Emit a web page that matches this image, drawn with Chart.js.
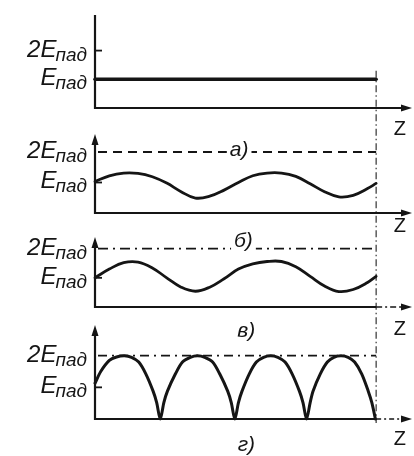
<!DOCTYPE html>
<html>
<head>
<meta charset="utf-8">
<script src="https://cdn.jsdelivr.net/npm/chart.js@4.4.1/dist/chart.umd.min.js"></script>
<style>
  body { margin: 0; background: #fff; }
  #wrap { position: relative; width: 414px; height: 456px; }
  #wrap canvas { position: absolute; left: 0; top: 0; }
</style>
</head>
<body>
<div id="wrap">
  <canvas id="p1" width="414" height="456"></canvas>
  <canvas id="p2" width="414" height="456"></canvas>
  <canvas id="p3" width="414" height="456"></canvas>
  <canvas id="p4" width="414" height="456"></canvas>
</div>
<script>
// z in units of the node spacing of panel г), E in units of E_пад
const Z_END = 3.92;
const Z_MAX = 4.42;

// panel 1: matched load, flat amplitude
const zA = [0, 3.92];
const eA = [1, 1];

// panel а)
const zB = [0, 0.2, 0.4, 0.6, 0.8, 1.0, 1.2, 1.4, 1.6, 1.8, 2.0, 2.2, 2.4, 2.6, 2.8, 3.0, 3.2, 3.4, 3.6, 3.8, 3.92];
const eB = [1.03, 1.22, 1.31, 1.30, 1.19, 0.98, 0.70, 0.49, 0.55, 0.75, 1.00, 1.22, 1.31, 1.31, 1.20, 0.96, 0.70, 0.53, 0.58, 0.80, 0.97];

// panel б)
const zC = [0, 0.2, 0.4, 0.6, 0.8, 1.0, 1.2, 1.4, 1.6, 1.8, 2.0, 2.2, 2.4, 2.6, 2.8, 3.0, 3.2, 3.4, 3.6, 3.8, 3.92];
const eC = [1.00, 1.30, 1.52, 1.54, 1.34, 1.00, 0.68, 0.54, 0.68, 0.97, 1.30, 1.48, 1.56, 1.56, 1.38, 1.05, 0.72, 0.53, 0.60, 0.84, 1.05];

// panel в)/г): standing wave
const zD = [0, 0.08, 0.2, 0.3, 0.41, 0.51, 0.61, 0.71, 0.81, 0.86, 0.91,
            0.96, 1.01, 1.12, 1.22, 1.33, 1.43, 1.53, 1.64, 1.74, 1.85, 1.90, 1.95,
            2.00, 2.05, 2.15, 2.25, 2.35, 2.45, 2.55, 2.65, 2.75, 2.85, 2.90, 2.95,
            3.00, 3.04, 3.14, 3.24, 3.33, 3.43, 3.53, 3.62, 3.72, 3.81, 3.86, 3.91];
const eD = [1.13, 1.50, 1.85, 1.96, 2.00, 1.95, 1.80, 1.42, 0.88, 0.52, 0,
            0.52, 0.88, 1.42, 1.80, 1.95, 2.00, 1.95, 1.80, 1.42, 0.88, 0.52, 0,
            0.52, 0.88, 1.42, 1.80, 1.95, 2.00, 1.95, 1.80, 1.42, 0.88, 0.52, 0,
            0.52, 0.88, 1.42, 1.80, 1.95, 2.00, 1.95, 1.80, 1.42, 0.88, 0.52, 0];

const tickValues = [2, 1];
const tickMains = ['2E', 'E'];
const tickSub = 'пад';
const panelMarks = ['а)', 'б)', 'в)', 'г)'];

const ink = '#151515';
const MAIN_FONT = 'italic 24px "Liberation Sans"';
const SUB_FONT = 'italic 19px "Liberation Sans"';

const panels = [
  { id: 'p1', z: zA, e: eA, top: 15, bottom: 108, yMax: 3.24, lw: 3.5, tension: 0,
    yArrow: false, tick: 2, ref: null, dash: null, tail: null,
    mark: null, zLab: -0.75, vline: true },
  { id: 'p2', z: zB, e: eB, top: 134, bottom: 213, yMax: 2.59, lw: 2.8, tension: 0.4,
    yArrow: true, tick: 1, ref: 2, dash: [9, 6], tail: null,
    mark: { text: panelMarks[0], z: 2.01, v: 2.07 }, zLab: -0.43 },
  { id: 'p3', z: zC, e: eC, top: 237, bottom: 307, yMax: 2.4, lw: 2.8, tension: 0.4,
    yArrow: true, tick: 1, ref: 2, dash: [10, 5, 2, 5], tail: [6, 3, 2, 3],
    mark: { text: panelMarks[1], z: 2.07, v: 2.27 }, zLab: -0.77 },
  { id: 'p4', z: zD, e: eD, top: 325, bottom: 419, yMax: 2.97, lw: 3, tension: 0.3,
    yArrow: true, tick: 1, ref: 2, dash: [9, 5, 2, 5], tail: [5, 3, 2, 3],
    mark: { text: panelMarks[2], z: 2.11, v: 2.76 }, mark2: { text: panelMarks[3], z: 2.11, v: -0.84 },
    zLab: -0.66 }
];

function seg(ctx, x1, y1, x2, y2, w, dash) {
  ctx.beginPath();
  ctx.lineWidth = w;
  ctx.setLineDash(dash || []);
  ctx.moveTo(x1, y1);
  ctx.lineTo(x2, y2);
  ctx.stroke();
  ctx.setLineDash([]);
}

function head(ctx, x, y, dx, dy) {
  const len = 11, half = 3.5;
  const bx = x - dx * len, by = y - dy * len;
  ctx.beginPath();
  ctx.moveTo(x, y);
  ctx.lineTo(bx - dy * half, by + dx * half);
  ctx.lineTo(bx + dy * half, by - dx * half);
  ctx.closePath();
  ctx.fill();
}

function eLabel(ctx, right, yPix, main) {
  ctx.textAlign = 'right';
  ctx.textBaseline = 'alphabetic';
  ctx.font = SUB_FONT;
  const sw = ctx.measureText(tickSub).width;
  ctx.fillText(tickSub, right, yPix + 10);
  ctx.font = MAIN_FONT;
  ctx.fillText(main, right - sw + 1, yPix + 6);
}

function markLabel(ctx, m, x, y) {
  ctx.font = 'italic 21px "Liberation Sans"';
  ctx.textAlign = 'center';
  ctx.textBaseline = 'middle';
  const px = x.getPixelForValue(m.z), py = y.getPixelForValue(m.v);
  const w = ctx.measureText(m.text).width;
  ctx.fillStyle = '#fff';
  ctx.fillRect(px - w / 2 - 3, py - 10, w + 6, 20);
  ctx.fillStyle = ink;
  ctx.fillText(m.text, px, py);
}

function makeDecor(p) {
  return {
    id: 'decor_' + p.id,
    beforeDatasetsDraw(chart) {
      const { ctx, chartArea: a, scales: { x, y } } = chart;
      const x0 = x.getPixelForValue(0), y0 = y.getPixelForValue(0);
      const xEnd = x.getPixelForValue(Z_END);
      ctx.save();
      ctx.strokeStyle = ink;
      ctx.fillStyle = ink;

      // axes
      seg(ctx, x0, y0 + 1, x0, a.top + (p.yArrow ? 8 : 0), 2.2);
      if (p.yArrow) head(ctx, x0, a.top, 0, -1);
      if (p.tail) {
        seg(ctx, x0 - 1, y0, xEnd, y0, 2);
        seg(ctx, xEnd, y0, a.right - 9, y0, 1.6, p.tail);
      } else {
        seg(ctx, x0 - 1, y0, a.right - 9, y0, 2);
      }
      head(ctx, a.right, y0, 1, 0);

      // tick mark
      const ty = y.getPixelForValue(p.tick);
      seg(ctx, x0, ty, x0 + 7, ty, 1.8);

      // 2E reference line
      if (p.ref) {
        const ry = y.getPixelForValue(p.ref);
        seg(ctx, x0 + 3, ry, xEnd, ry, 1.8, p.dash);
      }

      // tick labels
      tickValues.forEach((v, i) => eLabel(ctx, x0 - 8, y.getPixelForValue(v), tickMains[i]));

      // panel marks
      if (p.mark) markLabel(ctx, p.mark, x, y);
      if (p.mark2) markLabel(ctx, p.mark2, x, y);

      // z label
      ctx.font = '20px "Liberation Sans"';
      ctx.textAlign = 'center';
      ctx.textBaseline = 'middle';
      ctx.fillText('Z', x.getPixelForValue(4.25), y.getPixelForValue(p.zLab));

      // end-of-line marker crossing all panels
      if (p.vline) {
        ctx.lineWidth = 1.2;
        ctx.strokeStyle = '#333';
        seg(ctx, xEnd, y.getPixelForValue(1.3), xEnd, 423, 1.2, [7, 3, 1.5, 3]);
      }
      ctx.restore();
    }
  };
}

panels.forEach(p => {
  new Chart(document.getElementById(p.id), {
    type: 'line',
    data: {
      datasets: [{
        data: p.z.map((z, i) => ({ x: z, y: p.e[i] })),
        borderColor: ink,
        borderWidth: p.lw,
        borderCapStyle: 'round',
        borderJoinStyle: 'round',
        pointRadius: 0,
        tension: p.tension,
        fill: false,
        clip: false
      }]
    },
    options: {
      responsive: false,
      animation: false,
      events: [],
      layout: { padding: { left: 95, right: 2, top: p.top, bottom: 456 - p.bottom } },
      scales: {
        x: { type: 'linear', min: 0, max: Z_MAX, display: false },
        y: { min: 0, max: p.yMax, display: false }
      },
      plugins: { legend: { display: false }, tooltip: { enabled: false } }
    },
    plugins: [makeDecor(p)]
  });
});
</script>
</body>
</html>
